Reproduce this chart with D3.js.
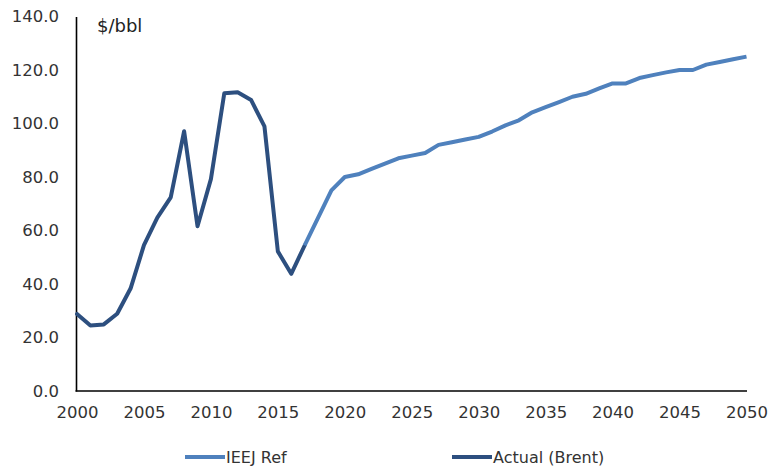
<!DOCTYPE html>
<html>
<head>
<meta charset="utf-8">
<script src="https://cdn.jsdelivr.net/npm/d3@7"></script>
<style>
  html, body { margin: 0; padding: 0; background: #fff; }
  svg text { font-family: "DejaVu Sans", Verdana, sans-serif; fill: #333; }
</style>
</head>
<body>
<svg id="chart" width="768" height="470"></svg>
<script>
// Crude oil price, $/bbl
const actualYears = [2000, 2001, 2002, 2003, 2004, 2005, 2006, 2007, 2008, 2009,
                     2010, 2011, 2012, 2013, 2014, 2015, 2016, 2017];
const actualValues = [28.8, 24.5, 24.9, 28.9, 38.3, 54.5, 64.8, 72.4, 97.1, 61.6,
                      79.2, 111.3, 111.7, 108.8, 98.9, 52.2, 43.8, 54.4];

const refYears = [2017, 2018, 2019, 2020, 2021, 2022, 2023, 2024, 2025, 2026,
                  2027, 2028, 2029, 2030, 2031, 2032, 2033, 2034, 2035, 2036,
                  2037, 2038, 2039, 2040, 2041, 2042, 2043, 2044, 2045, 2046,
                  2047, 2048, 2049, 2050];
const refValues = [54.4, 64.7, 75.0, 80.0, 81.0, 83.0, 85.0, 87.0, 88.0, 89.0,
                   92.0, 93.0, 94.0, 95.0, 97.0, 99.3, 101.2, 104.2, 106.1, 108.0,
                   110.0, 111.1, 113.1, 115.0, 115.0, 117.0, 118.1, 119.1, 120.0, 120.0,
                   122.0, 123.0, 124.0, 125.0];

const xTicks = [2000, 2005, 2010, 2015, 2020, 2025, 2030, 2035, 2040, 2045, 2050];
const yTicks = [0, 20, 40, 60, 80, 100, 120, 140];

const seriesNames = ["IEEJ Ref", "Actual (Brent)"];
const seriesColors = ["#4f81bd", "#2d4f7f"];

const svg = d3.select("#chart");

const x = d3.scaleLinear().domain([2000, 2050]).range([77, 746.5]);
const y = d3.scaleLinear().domain([0, 140]).range([391, 16.5]);

// y axis labels
const yAxis = d3.axisLeft(y).tickValues(yTicks).tickFormat(d3.format(".1f")).tickSize(0).tickPadding(17);
const gy = svg.append("g").attr("transform", "translate(76,0)").call(yAxis);
gy.select(".domain").attr("stroke", "#000").attr("stroke-width", 1.6);
gy.selectAll("text").style("font-size", "16.5px").style("fill", "#333").attr("font-family", null);

// x axis labels
const xAxis = d3.axisBottom(x).tickValues(xTicks).tickFormat(d3.format("d")).tickSize(0).tickPadding(15);
const gx = svg.append("g").attr("transform", "translate(0,391)").call(xAxis);
gx.select(".domain").attr("stroke", "#000").attr("stroke-width", 1.6).attr("d", "M75.5,0H747");
gx.selectAll("text").style("font-size", "16.5px").style("fill", "#333").attr("font-family", null);

// unit label
svg.append("text").attr("x", 97).attr("y", 32).style("font-size", "18px").style("fill", "#222").text("$/bbl");

const line = d3.line().x(d => x(d[0])).y(d => y(d[1]));

svg.append("path")
  .datum(actualYears.map((yr, i) => [yr, actualValues[i]]))
  .attr("d", line).attr("fill", "none")
  .attr("stroke", seriesColors[1]).attr("stroke-width", 4)
  .attr("stroke-linejoin", "round").attr("stroke-linecap", "round");

svg.append("path")
  .datum(refYears.map((yr, i) => [yr, refValues[i]]))
  .attr("d", line).attr("fill", "none")
  .attr("stroke", seriesColors[0]).attr("stroke-width", 4)
  .attr("stroke-linejoin", "round").attr("stroke-linecap", "butt");

// legend
const legendX = [185, 452];
const legend = svg.append("g");
seriesNames.forEach((name, i) => {
  legend.append("line")
    .attr("x1", legendX[i]).attr("x2", legendX[i] + 40)
    .attr("y1", 457).attr("y2", 457)
    .attr("stroke", seriesColors[i]).attr("stroke-width", 4);
  legend.append("text")
    .attr("x", legendX[i] + 41).attr("y", 463)
    .style("font-size", "16px").style("fill", "#333")
    .text(name);
});
</script>
</body>
</html>
